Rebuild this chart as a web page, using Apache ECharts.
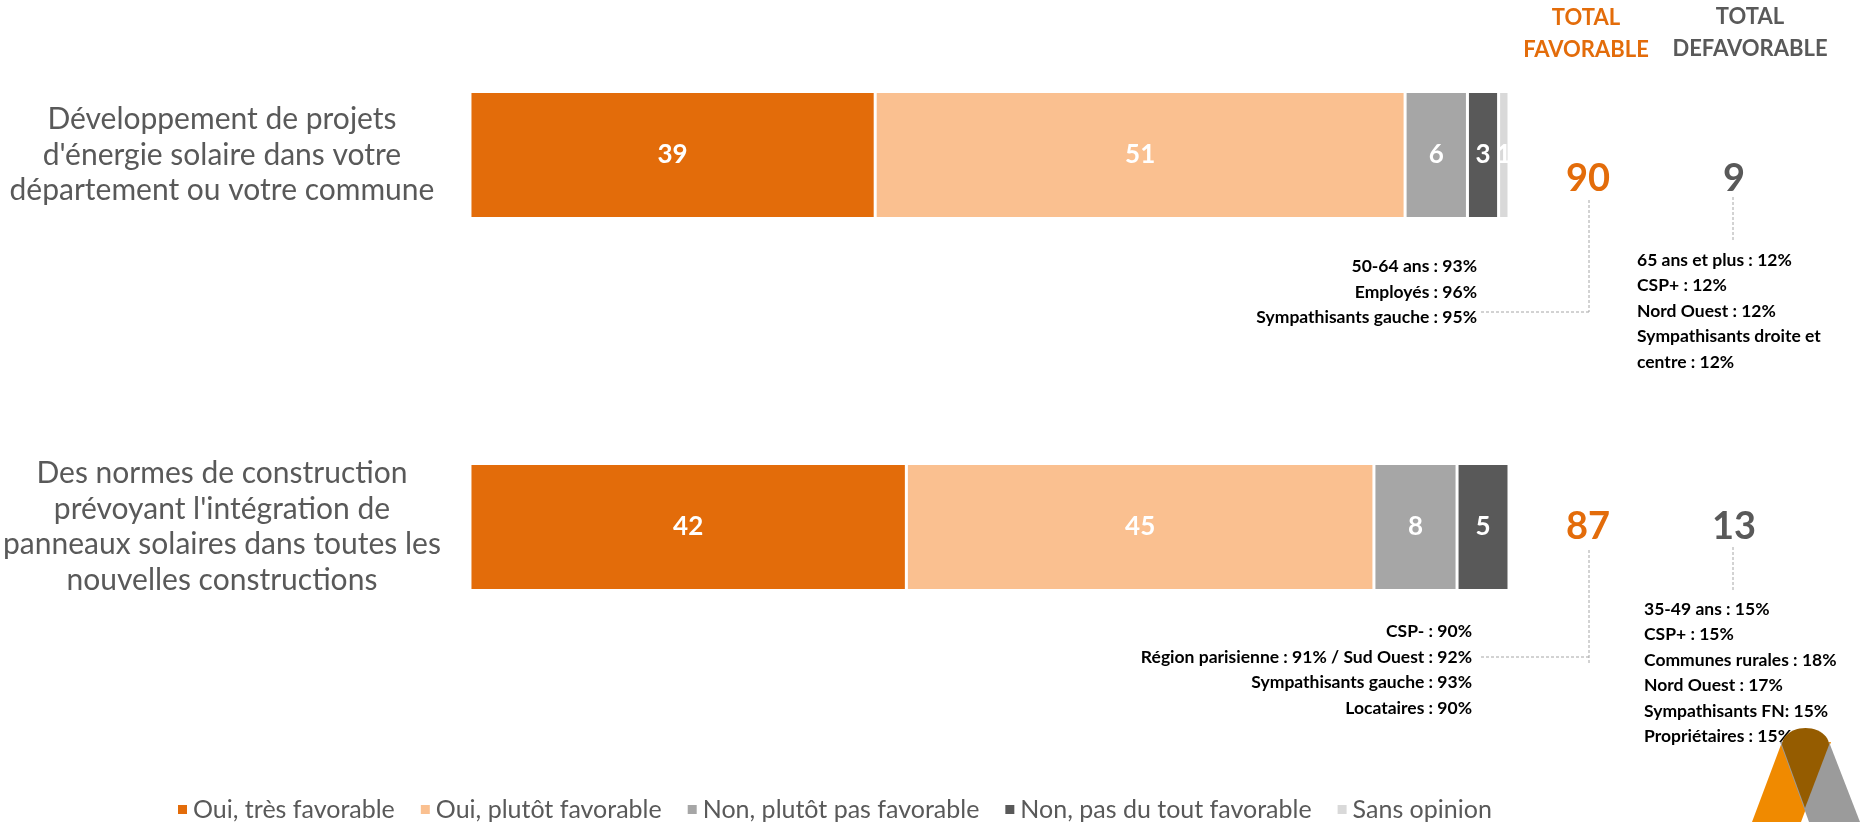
<!DOCTYPE html>
<html>
<head>
<meta charset="utf-8">
<script src="https://cdn.jsdelivr.net/npm/echarts@6/dist/echarts.min.js"></script>
<style>
html,body{margin:0;padding:0;background:#fff;}
#chart{width:1860px;height:822px;}
</style>
</head>
<body>
<div id="chart"></div>
<script>
// ---- data ----
const categories = [
  "Développement de projets\nd'énergie solaire dans votre\ndépartement ou votre commune",
  "Des normes de construction\nprévoyant l'intégration de\npanneaux solaires dans toutes les\nnouvelles constructions"
];
const seriesNames = ["Oui, très favorable", "Oui, plutôt favorable", "Non, plutôt pas favorable", "Non, pas du tout favorable", "Sans opinion"];
const tresFavorable = [39, 42];
const plutotFavorable = [51, 45];
const plutotPasFavorable = [6, 8];
const pasDuToutFavorable = [3, 5];
const sansOpinion = [1, 0];
const totalFavorable = [90, 87];
const totalDefavorable = [9, 13];
const notesFavorable = [
  ["50-64 ans : 93%", "Employés : 96%", "Sympathisants gauche : 95%"],
  ["CSP- : 90%", "Région parisienne : 91% / Sud Ouest : 92%", "Sympathisants gauche : 93%", "Locataires : 90%"]
];
const notesDefavorable = [
  ["65 ans et plus : 12%", "CSP+ : 12%", "Nord Ouest : 12%", "Sympathisants droite et", "centre : 12%"],
  ["35-49 ans : 15%", "CSP+ : 15%", "Communes rurales : 18%", "Nord Ouest : 17%", "Sympathisants FN: 15%", "Propriétaires : 15%"]
];

// ---- styles ----
const FONT = "Lato, 'Noto Sans', sans-serif";
const colors = ["#E36C0A", "#FAC090", "#A6A6A6", "#595959", "#D9D9D9"];
const valueSets = [tresFavorable, plutotFavorable, plutotPasFavorable, pasDuToutFavorable, sansOpinion];

const chart = echarts.init(document.getElementById('chart'));

const series = seriesNames.map((name, i) => ({
  name: name,
  type: 'bar',
  stack: 'total',
  barWidth: 127,
  clip: false,
  data: valueSets[i],
  itemStyle: { color: colors[i], borderColor: '#ffffff', borderWidth: 1.5 },
  label: {
    show: true,
    position: 'inside',
    color: '#ffffff',
    fontFamily: FONT,
    fontWeight: 'bold',
    fontSize: 26,
    formatter: p => (p.value ? String(p.value) : '')
  }
}));

// positions for annotation elements (layout, not data)
const favX = 1588, defavX = 1734;
const totalY = [179, 527];
const favLineTop = [200, 550], favLineBottom = [312, 663], favLineY = [312, 657];
const defavLineTop = [197, 547], defavLineBottom = [242, 592];
const favNoteX = [1477, 1472], favNoteY = [292, 670];
const defavNoteX = [1637, 1644], defavNoteY = [311, 673];

const graphics = [];
graphics.push({ type: 'text', x: 1586, y: 34, style: {
  text: 'TOTAL\nFAVORABLE', fill: '#E36C0A', font: "bold 22px " + FONT, align: 'center', verticalAlign: 'middle', lineHeight: 32 } });
graphics.push({ type: 'text', x: 1750, y: 33, style: {
  text: 'TOTAL\nDEFAVORABLE', fill: '#595959', font: "bold 22px " + FONT, align: 'center', verticalAlign: 'middle', lineHeight: 32 } });

const dash = { stroke: '#A6A6A6', lineWidth: 1, lineDash: [3, 2] };
for (let k = 0; k < categories.length; k++) {
  graphics.push({ type: 'text', x: favX, y: totalY[k], style: {
    text: String(totalFavorable[k]), fill: '#E36C0A', font: "bold 38px " + FONT, align: 'center', verticalAlign: 'middle' } });
  graphics.push({ type: 'text', x: defavX, y: totalY[k], style: {
    text: String(totalDefavorable[k]), fill: '#595959', font: "bold 38px " + FONT, align: 'center', verticalAlign: 'middle' } });
  graphics.push({ type: 'polyline', shape: { points: [[favX + 1, favLineTop[k]], [favX + 1, favLineBottom[k]]] }, style: dash });
  graphics.push({ type: 'polyline', shape: { points: [[favX + 1, favLineY[k]], [1481, favLineY[k]]] }, style: dash });
  graphics.push({ type: 'polyline', shape: { points: [[defavX - 1, defavLineTop[k]], [defavX - 1, defavLineBottom[k]]] }, style: dash });
  graphics.push({ type: 'text', x: favNoteX[k], y: favNoteY[k], style: {
    text: notesFavorable[k].join('\n'), fill: '#000000', font: "bold 17.5px " + FONT, align: 'right', verticalAlign: 'middle', lineHeight: 25.5 } });
  graphics.push({ type: 'text', x: defavNoteX[k], y: defavNoteY[k], style: {
    text: notesDefavorable[k].join('\n'), fill: '#000000', font: "bold 17.5px " + FONT, align: 'left', verticalAlign: 'middle', lineHeight: 25.5 } });
}

// logo (decorative)
const capPts = [];
for (let s = 0; s <= 24; s++) {
  const a = Math.PI + Math.PI * s / 24;
  capPts.push([1805.5 + 23.5 * Math.cos(a), 745 + 17 * Math.sin(a)]);
}
graphics.push({ type: 'polygon', shape: { points: [[1752, 822], [1801, 822], [1831, 742], [1782, 742]] }, style: { fill: '#F08A00' } });
graphics.push({ type: 'polygon', shape: { points: [[1780, 742], [1829, 742], [1860, 822], [1809, 822]] }, style: { fill: '#9B9B9B' } });
graphics.push({ type: 'polygon', shape: { points: [[1782, 745], [1829, 745], [1805, 808]] }, style: { fill: '#955C00' } });
graphics.push({ type: 'polygon', shape: { points: capPts }, style: { fill: '#955C00' } });

chart.setOption({
  animation: false,
  textStyle: { fontFamily: FONT },
  grid: { left: 469, right: 351, top: 155, bottom: 295, containLabel: false },
  xAxis: { type: 'value', min: 0, max: 100, show: false },
  yAxis: {
    type: 'category',
    inverse: true,
    boundaryGap: false,
    data: categories,
    axisLine: { show: false },
    axisTick: { show: false },
    splitLine: { show: false },
    axisLabel: {
      margin: 248,
      align: 'center',
      color: '#595959',
      fontFamily: FONT,
      fontSize: 30,
      lineHeight: 35.5
    }
  },
  legend: {
    left: 176,
    top: 797,
    padding: 0,
    icon: 'rect',
    itemWidth: 11,
    itemHeight: 11,
    itemGap: 24,
    textStyle: { color: '#595959', fontSize: 25, fontFamily: FONT },
    data: seriesNames
  },
  series: series,
  graphic: graphics
});
</script>
</body>
</html>
